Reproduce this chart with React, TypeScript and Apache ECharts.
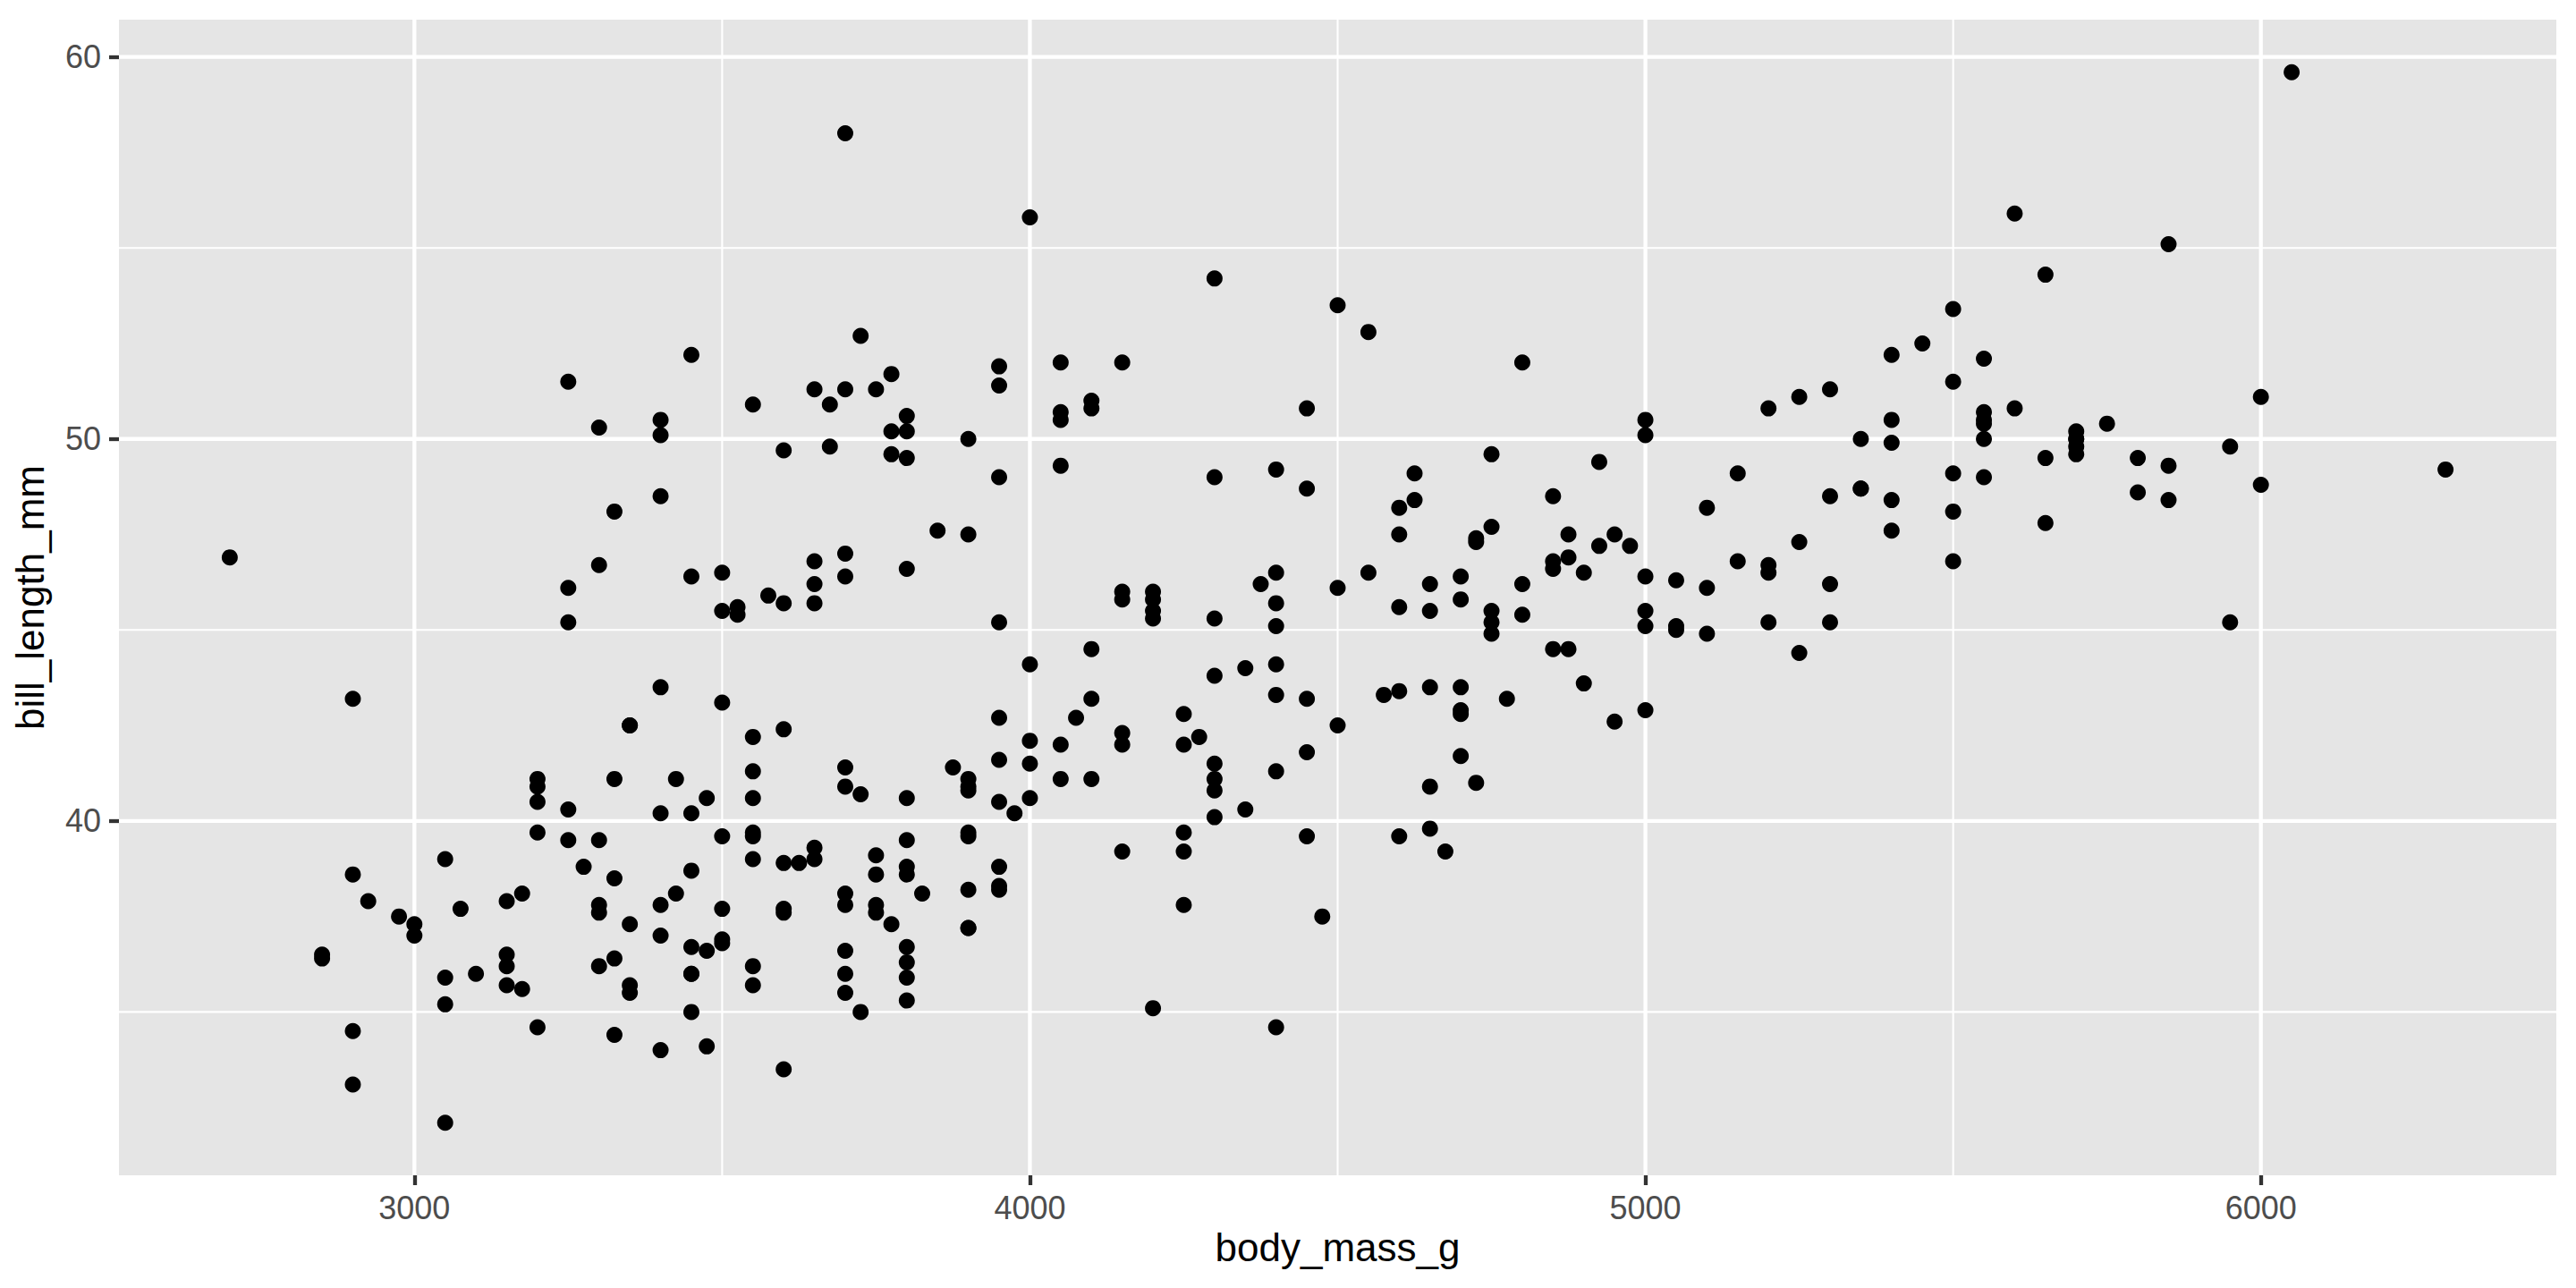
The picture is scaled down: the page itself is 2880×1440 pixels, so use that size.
import React, { useEffect, useRef } from "react";
import * as echarts from "echarts";

// Palmer penguins: body_mass_g vs bill_length_mm
const adelieMass = [
  3750, 3800, 3250, 3450, 3650, 3625, 4675, 3475, 4250, 3300,
  3700, 3200, 3800, 4400, 3700, 3450, 4500, 3325, 4200, 3400,
  3600, 3800, 3950, 3800, 3800, 3550, 3200, 3150, 3950, 3250,
  3900, 3300, 3900, 3325, 4150, 3950, 3550, 3300, 4650, 3150,
  3900, 3100, 4400, 3000, 4600, 3425, 2975, 3450, 4150, 3500,
  4300, 3450, 4050, 2900, 3700, 3550, 3800, 2850, 3750, 3150,
  4400, 3600, 4050, 2850, 3950, 3350, 4100, 3050, 4450, 3600,
  3900, 3550, 4150, 3700, 4250, 3700, 3900, 3550, 4000, 3200,
  4700, 3800, 4200, 3350, 3550, 3800, 3500, 3950, 3600, 3550,
  4300, 3400, 4450, 3300, 4300, 3700, 4350, 2900, 4100, 3725,
  4725, 3075, 4250, 2925, 3550, 3750, 3900, 3175, 4775, 3825,
  4600, 3200, 4275, 3900, 4075, 2900, 3775, 3350, 3325, 3150,
  3500, 3450, 3875, 3050, 4000, 3275, 4300, 3050, 4000, 3325,
  3500, 3500, 4475, 3425, 3900, 3175, 3975, 3400, 4250, 3400,
  3475, 3050, 3725, 3000, 3650, 4250, 3475, 3450, 3750, 3700, 4000,
];
const adelieBill = [
  39.1, 39.5, 40.3, 36.7, 39.3, 38.9, 39.2, 34.1, 42.0, 37.8,
  37.8, 41.1, 38.6, 34.6, 36.6, 38.7, 42.5, 34.4, 46.0, 37.8,
  37.7, 35.9, 38.2, 38.8, 35.3, 40.6, 40.5, 37.9, 40.5, 39.5,
  37.2, 39.5, 40.9, 36.4, 39.2, 38.8, 42.2, 37.6, 39.8, 36.5,
  40.8, 36.0, 44.1, 37.0, 39.6, 41.1, 37.5, 36.0, 42.3, 39.6,
  40.1, 35.0, 42.0, 34.5, 41.4, 39.0, 40.6, 36.5, 37.6, 35.7,
  41.3, 37.6, 41.1, 36.4, 41.6, 35.5, 41.1, 35.9, 41.8, 33.5,
  39.7, 39.6, 45.8, 35.5, 42.8, 40.9, 37.2, 36.2, 42.1, 34.6,
  42.9, 36.7, 35.1, 37.3, 41.3, 36.3, 36.9, 38.3, 38.9, 35.7,
  41.1, 34.0, 39.6, 36.2, 40.8, 38.1, 40.3, 33.1, 43.2, 35.0,
  41.0, 37.7, 37.8, 37.9, 39.7, 38.6, 38.2, 38.1, 43.2, 38.1,
  45.6, 39.7, 42.2, 39.6, 42.7, 38.6, 37.3, 35.7, 41.1, 36.2,
  37.7, 40.2, 41.4, 35.2, 40.6, 38.8, 41.5, 39.0, 44.1, 38.5,
  43.1, 36.8, 37.5, 38.1, 41.1, 35.6, 40.2, 37.0, 39.7, 40.2,
  40.6, 32.1, 40.7, 37.3, 39.0, 39.2, 36.6, 36.0, 37.8, 36.0, 41.5,
];
const gentooMass = [
  4500, 5700, 4450, 5700, 5400, 4550, 4800, 5200, 4400, 5150,
  4650, 5550, 4650, 5850, 4200, 5850, 4150, 6300, 4800, 5350,
  5700, 5000, 4400, 5050, 5000, 5100, 4100, 5650, 4600, 5550,
  5250, 4700, 5050, 6050, 5150, 5400, 4950, 5250, 4350, 5350,
  3950, 5700, 4300, 4750, 5550, 4900, 4200, 5400, 5100, 5300,
  4850, 5300, 4400, 5000, 4900, 5050, 4300, 5000, 4450, 5550,
  4200, 5300, 4400, 5650, 4700, 5700, 4650, 5800, 4700, 5550,
  4750, 5000, 5100, 5200, 4700, 5800, 4600, 6000, 4750, 5950,
  4625, 5450, 4725, 5350, 4750, 5600, 4600, 5300, 4875, 5550,
  4950, 5400, 4750, 5650, 4850, 5200, 4925, 4875, 4625, 5250,
  4850, 5600, 4975, 5500, 4725, 5500, 4700, 5500, 4575, 5500,
  5000, 5950, 4650, 5500, 4375, 5850, 4875, 6000, 4925, 4850,
  5750, 5200, 5400,
];
const gentooBill = [
  46.1, 50.0, 48.7, 50.0, 47.6, 46.5, 45.4, 46.7, 43.3, 46.8,
  40.9, 49.0, 45.5, 48.4, 45.8, 49.3, 42.0, 49.2, 46.2, 48.7,
  50.2, 45.1, 46.5, 46.3, 42.9, 46.1, 44.5, 47.8, 48.2, 50.0,
  47.3, 42.8, 45.1, 59.6, 49.1, 48.4, 42.6, 44.4, 44.0, 48.7,
  42.7, 49.6, 45.3, 49.6, 50.5, 43.6, 45.5, 50.5, 44.9, 45.2,
  46.6, 48.5, 45.1, 50.1, 46.5, 45.0, 43.8, 45.5, 43.2, 50.4,
  45.3, 46.2, 45.7, 54.3, 45.8, 49.8, 46.2, 49.5, 43.5, 50.7,
  47.7, 46.4, 48.2, 46.5, 46.4, 48.6, 47.5, 51.1, 45.2, 45.2,
  49.1, 52.5, 47.4, 50.0, 44.9, 50.8, 43.4, 51.3, 47.5, 52.1,
  47.5, 52.2, 45.5, 49.5, 44.5, 50.8, 49.4, 46.9, 48.4, 51.1,
  48.5, 55.9, 47.2, 49.1, 47.3, 46.8, 41.7, 53.4, 43.3, 48.1,
  50.5, 49.8, 43.5, 51.5, 46.2, 55.1, 44.5, 48.8, 47.2, 46.8,
  50.4, 45.2, 49.9,
];
const chinstrapMass = [
  3500, 3900, 3650, 3525, 3725, 3950, 3250, 3750, 4150, 3700,
  3800, 3775, 3700, 4050, 3575, 4050, 3300, 3700, 3450, 4400,
  3600, 3400, 2900, 3800, 3300, 4150, 3400, 3800, 3700, 4550,
  3200, 4300, 3350, 4100, 3600, 3900, 3850, 4800, 2700, 4500,
  3950, 3650, 3550, 3500, 3675, 4450, 3400, 4300, 3250, 3675,
  3325, 3950, 3600, 4050, 3350, 3450, 3250, 4050, 3800, 3525,
  3950, 3650, 3650, 4000, 3400, 3775, 4100, 3775,
];
const chinstrapBill = [
  46.5, 50.0, 51.3, 45.4, 52.7, 45.2, 46.1, 51.3, 46.0, 51.3,
  46.6, 51.7, 47.0, 52.0, 45.9, 50.5, 50.3, 58.0, 46.4, 49.2,
  42.4, 48.5, 43.2, 50.6, 46.7, 52.0, 50.5, 49.5, 46.4, 52.8,
  40.9, 54.2, 42.5, 51.0, 49.7, 47.5, 47.6, 52.0, 46.9, 53.5,
  49.0, 46.2, 50.9, 45.5, 50.9, 50.8, 50.1, 49.0, 51.5, 49.8,
  48.1, 51.4, 45.7, 50.7, 42.5, 52.2, 45.2, 49.3, 50.2, 45.6,
  51.9, 46.8, 45.7, 55.8, 43.5, 49.6, 50.8, 50.2,
];

const xTicks = [3000, 4000, 5000, 6000];
const xMinor = [3500, 4500, 5500];
const yTicks = [40, 50, 60];
const yMinor = [35, 45, 55];
const xRange = [2520, 6480];
const yRange = [30.725, 60.975];

const FONT = "'Liberation Sans', Arial, Helvetica, sans-serif";

export default function App() {
  const ref = useRef<HTMLDivElement>(null);
  useEffect(() => {
    if (!ref.current) return;
    const chart = echarts.init(ref.current, undefined, { renderer: "svg" });

    const points: number[][] = [];
    const add = (ms: number[], bs: number[]) => {
      for (let i = 0; i < Math.min(ms.length, bs.length); i++) points.push([ms[i], bs[i]]);
    };
    add(adelieMass, adelieBill);
    add(gentooMass, gentooBill);
    add(chinstrapMass, chinstrapBill);

    // grid lines: [orientation (0 = vertical, 1 = horizontal), value, major]
    const gridData: number[][] = [
      ...xMinor.map((v) => [0, v, 0]),
      ...yMinor.map((v) => [1, v, 0]),
      ...xTicks.map((v) => [0, v, 1]),
      ...yTicks.map((v) => [1, v, 1]),
    ];

    chart.setOption({
      animation: false,
      backgroundColor: "#FFFFFF",
      grid: {
        show: true,
        backgroundColor: "#E5E5E5",
        borderWidth: 0,
        left: 133,
        right: 22,
        top: 22,
        bottom: 126,
      },
      xAxis: {
        type: "value",
        min: xRange[0],
        max: xRange[1],
        splitLine: { show: false },
        axisLine: { show: false },
        axisTick: {
          show: true,
          customValues: xTicks,
          length: 11,
          lineStyle: { color: "#333333", width: 4.3 },
        },
        axisLabel: {
          customValues: xTicks,
          formatter: (v: number) => String(v),
          color: "#4D4D4D",
          fontSize: 36,
          fontFamily: FONT,
          margin: 18,
        },
        name: "body_mass_g",
        nameLocation: "middle",
        nameGap: 58,
        nameTextStyle: { color: "#000000", fontSize: 44, fontFamily: FONT },
      },
      yAxis: {
        type: "value",
        min: yRange[0],
        max: yRange[1],
        splitLine: { show: false },
        axisLine: { show: false },
        axisTick: {
          show: true,
          customValues: yTicks,
          length: 11,
          lineStyle: { color: "#333333", width: 4.3 },
        },
        axisLabel: {
          customValues: yTicks,
          formatter: (v: number) => String(v),
          color: "#4D4D4D",
          fontSize: 36,
          fontFamily: FONT,
          margin: 20,
        },
        name: "bill_length_mm",
        nameLocation: "middle",
        nameGap: 78,
        nameTextStyle: { color: "#000000", fontSize: 44, fontFamily: FONT },
      },
      series: [
        {
          type: "custom",
          z: 1,
          silent: true,
          clip: false,
          data: gridData,
          encode: { x: 1, y: 1 },
          renderItem: (params: any, api: any) => {
            const cs = params.coordSys;
            const o = api.value(0);
            const v = api.value(1);
            const major = api.value(2);
            const style = { stroke: "#FFFFFF", lineWidth: major ? 4.3 : 2.1 };
            if (o === 0) {
              const px = api.coord([v, yRange[0]])[0];
              return {
                type: "line",
                shape: { x1: px, y1: cs.y, x2: px, y2: cs.y + cs.height },
                style,
              };
            }
            const py = api.coord([xRange[0], v])[1];
            return {
              type: "line",
              shape: { x1: cs.x, y1: py, x2: cs.x + cs.width, y2: py },
              style,
            };
          },
        },
        {
          type: "scatter",
          z: 3,
          data: points,
          symbol: "circle",
          symbolSize: 18,
          itemStyle: { color: "#000000", opacity: 1 },
          silent: true,
        },
      ],
    });
    return () => chart.dispose();
  }, []);

  return (
    <div
      ref={ref}
      style={{ position: "absolute", left: 0, top: 0, width: 2880, height: 1440, background: "#FFFFFF" }}
    />
  );
}
